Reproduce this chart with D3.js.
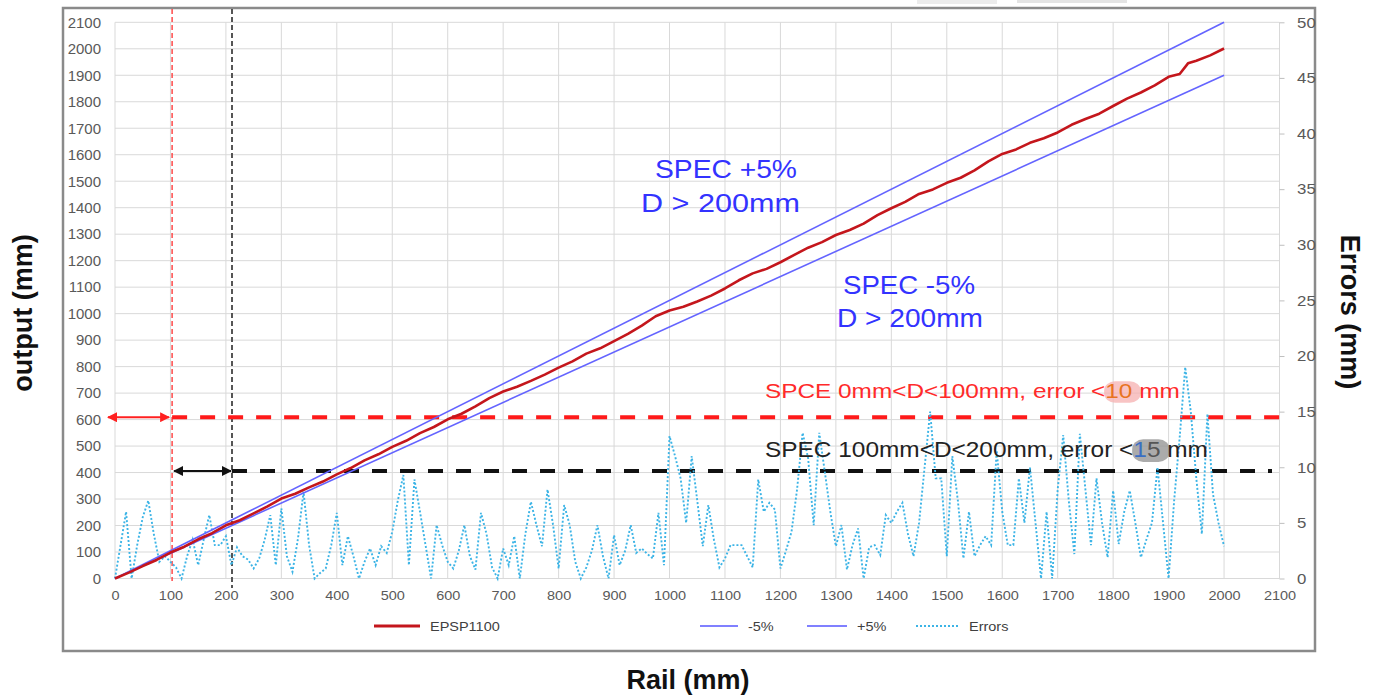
<!DOCTYPE html>
<html>
<head>
<meta charset="utf-8">
<script src="https://cdn.jsdelivr.net/npm/d3@7"></script>
<style>
    body { margin: 0; background: #fff; }
    svg { display: block; font-family: "Liberation Sans", Arial, sans-serif; }
    .grid line { stroke: #d9d9d9; stroke-width: 1; }
    .tick text { fill: #595959; }
</style>
</head>
<body>
<svg id="chart" width="1379" height="697"></svg>
<script>
// --- Data ---
const xTicks = [0, 100, 200, 300, 400, 500, 600, 700, 800, 900, 1000, 1100, 1200, 1300, 1400, 1500, 1600, 1700, 1800, 1900, 2000, 2100];
const yTicks = [0, 100, 200, 300, 400, 500, 600, 700, 800, 900, 1000, 1100, 1200, 1300, 1400, 1500, 1600, 1700, 1800, 1900, 2000, 2100];
const errTicks = [0, 5, 10, 15, 20, 25, 30, 35, 40, 45, 50];

// EPSP1100 output vs rail position
const redRail = [0, 25, 50, 75, 100, 125, 150, 175, 200, 225, 250, 275, 300, 325, 350, 375, 400, 425, 450, 475,
    500, 525, 550, 575, 600, 625, 650, 675, 700, 725, 750, 775, 800, 825, 850, 875, 900, 925, 950, 975,
    1000, 1025, 1050, 1075, 1100, 1125, 1150, 1175, 1200, 1225, 1250, 1275, 1300, 1325, 1350, 1375, 1400, 1425, 1450, 1475,
    1500, 1525, 1550, 1575, 1600, 1625, 1650, 1675, 1700, 1725, 1750, 1775, 1800, 1825, 1850, 1875, 1900, 1920, 1935, 1950, 1975, 2000];
const redOut = [0, 22, 47, 70, 98, 120, 148, 171, 201, 220, 246, 272, 302, 320, 344, 366, 393, 417, 446, 469,
    497, 520, 549, 572, 601, 622, 650, 681, 706, 724, 746, 770, 796, 820, 849, 869, 896, 924, 955, 990,
    1012, 1026, 1046, 1068, 1095, 1126, 1152, 1169, 1194, 1222, 1249, 1270, 1297, 1316, 1340, 1372, 1398, 1422, 1452, 1469,
    1494, 1513, 1541, 1575, 1603, 1620, 1645, 1662, 1684, 1713, 1735, 1755, 1784, 1812, 1835, 1862, 1894, 1905, 1945, 1955, 1975, 2001];

// spec bands (-5% / +5%)
const specRail = [0, 2000];
const minus5 = [0, 1900];
const plus5 = [0, 2100];

// errors (mm), sampled every 10 mm of rail
const errRail = d3.range(0, 2001, 10);
const errors = [
    0, 3, 6, 0, 3, 5.5, 7, 4, 1.5, 2,
    1.5, 1, 0, 2, 3.5, 1.2, 3.5, 5.7, 3, 3,
    3.8, 1.2, 2.8, 2, 1.7, 0.9, 1.8, 3.5, 5.7, 1.2,
    6.3, 2, 0.6, 3.6, 7.8, 3, 0, 0.5, 0.9, 3,
    5.9, 1.2, 3.8, 2, 0, 1.5, 2.7, 1.2, 2.9, 2.3,
    4.2, 7, 9.3, 1.2, 8.9, 6, 3, 0, 4.8, 3,
    1.5, 0.9, 2.5, 4.8, 2, 0.8, 5.9, 4, 1, 0,
    2.7, 1.2, 3.8, 0, 4, 6.9, 4.8, 2.9, 8, 4.8,
    0.9, 6.6, 4.8, 1.5, 0, 1, 2.5, 4.8, 2, 0,
    3.9, 1.2, 2.5, 4.8, 2.3, 2.7, 2.2, 1.8, 5.9, 1.2,
    12.8, 11, 9, 5, 11, 7, 2.9, 6.6, 3.5, 1,
    1.8, 3, 3, 3, 2, 1, 8.9, 6, 6.8, 6.2,
    0.9, 2.5, 4.2, 8, 13.1, 10.8, 4.8, 13.1, 9.6, 6,
    2.9, 4.8, 0.8, 3, 4.5, 0, 2.8, 3, 2.1, 5.7,
    5, 6, 6.8, 4, 2, 5, 10, 15, 9, 9,
    2, 11, 7, 1.8, 6, 2, 3, 3.8, 3, 11.5,
    6, 3, 3, 9, 5, 10, 5, 0, 6, 0,
    8, 12.9, 7, 2.2, 13, 8, 3, 9, 5, 1.9,
    7.9, 3.1, 6, 7.9, 5, 1.9, 3.5, 5, 10, 5,
    0, 7, 12.7, 19, 15, 9, 4, 14.8, 7.6, 5, 2.9
];

// spec limit markers
const limitRail = [103, 211];     // vertical dashed lines
const limitOut = [609, 406];      // horizontal dashed lines

// legend entries
const legendLabels = ["EPSP1100", "-5%", "+5%", "Errors"];

// --- Chart ---
const svg = d3.select("#chart");
const SX = 1.16; // the source picture is stretched horizontally

const x = d3.scaleLinear().domain([0, 2100]).range([115, 1279.5]);
const yL = d3.scaleLinear().domain([0, 2100]).range([578.5, 22.3]);
const yR = d3.scaleLinear().domain([0, 50]).range([578.5, 22.3]);

// faint marks from the source screenshot
svg.append("rect").attr("x", 917).attr("y", 0).attr("width", 80).attr("height", 4).attr("fill", "#ececec");
svg.append("rect").attr("x", 1017).attr("y", 0).attr("width", 110).attr("height", 3).attr("fill", "#e4e4e4");

// outer frame
svg.append("rect").attr("x", 63).attr("y", 8).attr("width", 1252).attr("height", 643)
    .attr("fill", "none").attr("stroke", "#8a8a8a").attr("stroke-width", 2.5);

// grid
const grid = svg.append("g").attr("class", "grid");
grid.selectAll(".v").data(xTicks).enter().append("line")
    .attr("x1", d => x(d)).attr("x2", d => x(d)).attr("y1", yL(2100)).attr("y2", yL(0));
grid.selectAll(".h").data(yTicks).enter().append("line")
    .attr("x1", x(0)).attr("x2", x(2100)).attr("y1", d => yL(d)).attr("y2", d => yL(d));

// axes
const fmt = d3.format("d");
const axL = svg.append("g").attr("transform", `translate(${x(0)},0)`)
    .call(d3.axisLeft(yL).tickValues(yTicks).tickFormat(fmt).tickSize(0).tickPadding(14));
axL.select(".domain").remove();
axL.selectAll("text").style("font-size", "15px");

const axB = svg.append("g").attr("transform", `translate(0,${yL(0)})`)
    .call(d3.axisBottom(x).tickValues(xTicks).tickFormat(fmt).tickSize(0).tickPadding(13));
axB.select(".domain").remove();
axB.selectAll("text").style("font-size", "12.5px").attr("transform", `scale(${SX},1)`);

const axR = svg.append("g").attr("transform", `translate(${x(2100)},0)`)
    .call(d3.axisRight(yR).tickValues(errTicks).tickFormat(fmt).tickSize(5).tickPadding(12));
axR.select(".domain").remove();
axR.selectAll("line").attr("stroke", "#bfbfbf");
axR.selectAll("text").style("font-size", "15px")
    .attr("transform", `translate(12,0) scale(1.12,1) translate(-12,0)`);

// vertical limit lines
svg.append("line").attr("x1", x(limitRail[0])).attr("x2", x(limitRail[0]))
    .attr("y1", 9).attr("y2", 581)
    .attr("stroke", "#ff4a4a").attr("stroke-width", 1.5).attr("stroke-dasharray", "5,3");
svg.append("line").attr("x1", x(limitRail[1])).attr("x2", x(limitRail[1]))
    .attr("y1", 9).attr("y2", 588)
    .attr("stroke", "#555").attr("stroke-width", 2).attr("stroke-dasharray", "5,3");

// horizontal limit lines
svg.append("line").attr("x1", x(limitRail[0])).attr("x2", 1283)
    .attr("y1", yL(limitOut[0])).attr("y2", yL(limitOut[0]))
    .attr("stroke", "#ff1a1a").attr("stroke-width", 4).attr("stroke-dasharray", "15,13");
svg.append("line").attr("x1", x(limitRail[1])).attr("x2", 1272)
    .attr("y1", yL(limitOut[1])).attr("y2", yL(limitOut[1]))
    .attr("stroke", "#111").attr("stroke-width", 4).attr("stroke-dasharray", "15,13");

// double arrows
const defs = svg.append("defs");
function marker(id, color) {
    defs.append("marker").attr("id", id).attr("viewBox", "0 0 10 10")
        .attr("refX", 9).attr("refY", 5).attr("markerWidth", 5).attr("markerHeight", 5)
        .attr("markerUnits", "strokeWidth").attr("orient", "auto-start-reverse")
        .append("path").attr("d", "M0,0L10,5L0,10z").attr("fill", color);
}
marker("arrRed", "#ff2020");
marker("arrBlack", "#111");
svg.append("line").attr("x1", 108).attr("x2", x(limitRail[0]) - 3)
    .attr("y1", yL(limitOut[0])).attr("y2", yL(limitOut[0]))
    .attr("stroke", "#ff2020").attr("stroke-width", 2)
    .attr("marker-start", "url(#arrRed)").attr("marker-end", "url(#arrRed)");
svg.append("line").attr("x1", x(limitRail[0]) + 2).attr("x2", x(limitRail[1]) - 1)
    .attr("y1", yL(limitOut[1])).attr("y2", yL(limitOut[1]))
    .attr("stroke", "#111").attr("stroke-width", 2)
    .attr("marker-start", "url(#arrBlack)").attr("marker-end", "url(#arrBlack)");

// series
const lineL = d3.line().x(d => x(d[0])).y(d => yL(d[1]));
const lineR = d3.line().x(d => x(d[0])).y(d => yR(d[1]));

svg.append("path").datum(errRail.map((r, i) => [r, errors[i]]))
    .attr("d", lineR).attr("fill", "none")
    .attr("stroke", "#3cb4e6").attr("stroke-width", 1.9).attr("stroke-dasharray", "2,2");

svg.append("path").datum(specRail.map((r, i) => [r, minus5[i]]))
    .attr("d", lineL).attr("fill", "none").attr("stroke", "#6464ff").attr("stroke-width", 1.6);
svg.append("path").datum(specRail.map((r, i) => [r, plus5[i]]))
    .attr("d", lineL).attr("fill", "none").attr("stroke", "#6464ff").attr("stroke-width", 1.6);

svg.append("path").datum(redRail.map((r, i) => [r, redOut[i]]))
    .attr("d", lineL).attr("fill", "none").attr("stroke", "#c4161c").attr("stroke-width", 2.6)
    .attr("stroke-linejoin", "round");

// --- Annotations (horizontally stretched like the source) ---
function stretched(parts, xLeft, baseline, size, width, opts = {}) {
    const g = svg.append("g");
    const t = g.append("text").attr("x", 0).attr("y", 0).style("font-size", size + "px")
        .attr("font-weight", opts.weight || "normal");
    parts.forEach(p => t.append("tspan").text(p.text).attr("fill", p.fill));
    const len = t.node().getComputedTextLength();
    const sx = width / len;
    g.attr("transform", `translate(${xLeft},${baseline}) scale(${sx},1)`);
    return { g, t, sx };
}

function highlight(res, startIdx, count, extra, size, color) {
    const node = res.t.node();
    const x0 = node.getSubStringLength(0, startIdx);
    const w = node.getSubStringLength(startIdx, count);
    res.g.insert("rect", "text")
        .attr("x", x0 - 1).attr("y", -size * 0.82).attr("width", w + extra).attr("height", size * 1.05)
        .attr("rx", size * 0.45).attr("fill", color);
}

stretched([{ text: "SPEC +5%", fill: "#3333ff" }], 655, 178, 25, 142);
stretched([{ text: "D > 200mm", fill: "#3333ff" }], 641, 212, 25, 159);
stretched([{ text: "SPEC -5%", fill: "#3333ff" }], 843, 294, 25, 132);
stretched([{ text: "D > 200mm", fill: "#3333ff" }], 837, 327, 25, 146);

const redTxt1 = "SPCE 0mm<D<100mm, error <";
const r1 = stretched([
    { text: redTxt1, fill: "#ff2a2a" },
    { text: "10", fill: "#e8731f" },
    { text: " mm", fill: "#ff2a2a" }
], 765, 398, 20.5, 415);
highlight(r1, redTxt1.length, 2, 8, 20.5, "rgba(246,176,176,0.75)");

const blkTxt1 = "SPEC 100mm<D<200mm, error <";
const r2 = stretched([
    { text: blkTxt1, fill: "#222" },
    { text: "1", fill: "#3a6fc4" },
    { text: "5", fill: "#555" },
    { text: " mm", fill: "#222" }
], 765, 457, 21.5, 443);
highlight(r2, blkTxt1.length, 2, 9, 21.5, "rgba(150,150,150,0.8)");

// axis titles
svg.append("text").attr("transform", "translate(32,313) rotate(-90)")
    .attr("text-anchor", "middle").attr("font-weight", "bold").style("font-size", "27px")
    .attr("fill", "#111").text("output (mm)");
svg.append("text").attr("transform", "translate(1341,312) rotate(90)")
    .attr("text-anchor", "middle").attr("font-weight", "bold").style("font-size", "27px")
    .attr("fill", "#111").text("Errors (mm)");
svg.append("text").attr("x", 688).attr("y", 689)
    .attr("text-anchor", "middle").attr("font-weight", "bold").style("font-size", "27px")
    .attr("fill", "#111").text("Rail (mm)");

// legend
const legY = 626;
const legendStyle = [
    { x1: 374, x2: 420, color: "#c4161c", w: 3, dash: null },
    { x1: 700, x2: 738, color: "#8080ff", w: 2, dash: null },
    { x1: 807, x2: 847, color: "#8080ff", w: 2, dash: null },
    { x1: 916, x2: 959, color: "#3cb4e6", w: 1.9, dash: "2,2" }
];
legendLabels.forEach((label, i) => {
    const l = legendStyle[i];
    svg.append("line").attr("x1", l.x1).attr("x2", l.x2).attr("y1", legY).attr("y2", legY)
        .attr("stroke", l.color).attr("stroke-width", l.w).attr("stroke-dasharray", l.dash);
    svg.append("text").attr("transform", `translate(${l.x2 + 10},${legY + 4.5}) scale(${SX},1)`)
        .style("font-size", "12.5px").attr("fill", "#404040").text(label);
});
</script>
</body>
</html>
